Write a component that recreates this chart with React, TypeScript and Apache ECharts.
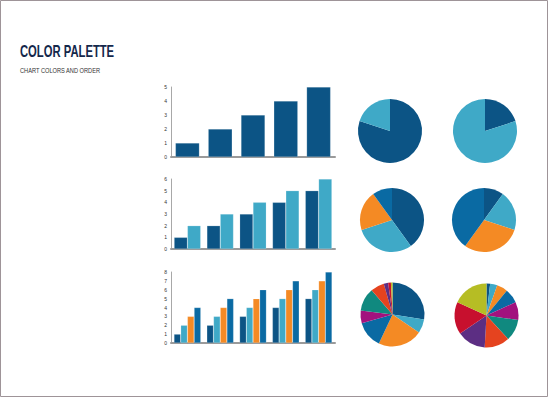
import React, { useEffect, useRef } from "react";
import * as echarts from "echarts";

const TITLE = "COLOR PALETTE";
const SUBTITLE = "CHART COLORS AND ORDER";

const PALETTE = [
  "#0c5485", "#3fa9c7", "#f48a24", "#0a6aa3", "#a2127e",
  "#10897f", "#e5431f", "#5c2e83", "#c7102e", "#b6bd24",
];

const categories = ["A", "B", "C", "D", "E"];
const bar1 = [1, 2, 3, 4, 5];
const bar2a = [1, 2, 3, 4, 5];
const bar2b = [2, 3, 4, 5, 6];
const bar3a = [1, 2, 3, 4, 5];
const bar3b = [2, 3, 4, 5, 6];
const bar3c = [3, 4, 5, 6, 7];
const bar3d = [4, 5, 6, 7, 8];

const pie1a = [4, 1];
const pie1b = [1, 4];
const pie2a = [4, 3, 2, 1];
const pie2b = [1, 2, 3, 4];
const pie3a = [27.5, 7, 22.5, 13.6, 6.4, 11.7, 6.9, 2.2, 1.4, 0.8];
const pie3b = [1, 2, 3, 4, 5, 6, 7, 8, 9, 10];

const yMax = [5, 6, 8];

export default function App() {
  const ref = useRef<HTMLDivElement>(null);
  useEffect(() => {
    if (!ref.current) return;
    const chart = echarts.init(ref.current, undefined, { renderer: "svg" });

    const grids = [
      { left: 171, top: 87, width: 164, height: 70 },
      { left: 171, top: 179, width: 164, height: 70 },
      { left: 171, top: 272, width: 164, height: 71 },
    ];

    const xAxes = grids.map((_, i) => ({
      type: "category",
      gridIndex: i,
      data: categories,
      axisLine: { show: true, lineStyle: { color: "#9a9a9a", width: 2 } },
      axisTick: { show: false },
      axisLabel: { show: false },
      splitLine: { show: false },
    }));
    const yAxes = grids.map((_, i) => ({
      type: "value",
      gridIndex: i,
      min: 0,
      max: yMax[i],
      interval: 1,
      axisLine: { show: true, lineStyle: { color: "#a8a8a8", width: 1 } },
      axisTick: { show: false },
      axisLabel: { fontSize: 5, color: "#333", margin: 4, fontFamily: "Liberation Sans" },
      splitLine: { show: false },
    }));

    const barSeries = (data: number[], gi: number, ci: number, w: number) => ({
      type: "bar",
      xAxisIndex: gi,
      yAxisIndex: gi,
      data,
      barWidth: w,
      barGap: "0%",
      itemStyle: { color: PALETTE[ci], borderColor: "rgba(255,255,255,0.35)", borderWidth: 0.5 },
    });

    const pieSeries = (vals: number[], cx: number, cy: number) => ({
      type: "pie",
      center: [cx, cy],
      radius: 32,
      startAngle: 90,
      clockwise: true,
      label: { show: false },
      labelLine: { show: false },
      silent: true,
      itemStyle: { borderWidth: 0 },
      data: vals.map((v, i) => ({ value: v, itemStyle: { color: PALETTE[i] } })),
    });

    chart.setOption({
      animation: false,
      backgroundColor: "#ffffff",
      grid: grids,
      xAxis: xAxes,
      yAxis: yAxes,
      graphic: [
        {
          type: "rect",
          shape: { x: 0.5, y: 0.5, width: 547, height: 396 },
          style: { fill: "none", stroke: "#9e9498", lineWidth: 1 },
          silent: true,
        },
        {
          type: "text",
          x: 20,
          y: 51,
          scaleX: 0.69,
          style: {
            text: TITLE,
            fontFamily: "Liberation Sans",
            fontWeight: "bold",
            fontSize: 16.3,
            fill: "#14284b",
            align: "left",
            verticalAlign: "middle",
          },
        },
        {
          type: "text",
          x: 20,
          y: 70.5,
          scaleX: 0.71,
          style: {
            text: SUBTITLE,
            fontFamily: "Liberation Sans",
            fontSize: 8,
            fill: "#333333",
            align: "left",
            verticalAlign: "middle",
          },
        },
      ],
      series: [
        barSeries(bar1, 0, 0, 24),
        barSeries(bar2a, 1, 0, 13.3),
        barSeries(bar2b, 1, 1, 13.3),
        barSeries(bar3a, 2, 0, 6.7),
        barSeries(bar3b, 2, 1, 6.7),
        barSeries(bar3c, 2, 2, 6.7),
        barSeries(bar3d, 2, 3, 6.7),
        pieSeries(pie1a, 390, 131),
        pieSeries(pie1b, 485, 131),
        pieSeries(pie2a, 392, 220),
        pieSeries(pie2b, 484, 220),
        pieSeries(pie3a, 392.5, 314.5),
        pieSeries(pie3b, 486.5, 315.5),
      ],
    });
    return () => chart.dispose();
  }, []);
  return (
    <div
      ref={ref}
      style={{ position: "absolute", left: 0, top: 0, width: 548, height: 397 }}
    />
  );
}
